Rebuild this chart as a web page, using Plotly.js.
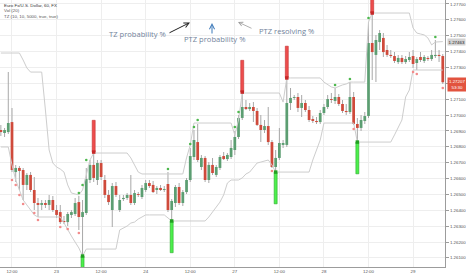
<!DOCTYPE html>
<html><head><meta charset="utf-8">
<script src="https://cdn.plot.ly/plotly-3.0.1.min.js"></script>
<style>html,body{margin:0;padding:0;background:#fff}#chart{width:466px;height:275px}</style>
</head><body><div id="chart"></div>
<script>
// hourly EUR/USD candles (index 0 = 22nd 09:00)
const opens = [
1.26906,1.26887,1.26893,1.26956,1.26641,1.26667,1.26654,1.26560,1.26623,1.26528,
1.26446,1.26434,1.26446,1.26434,1.26465,1.26402,1.26389,1.26333,1.26326,1.26371,
1.26377,1.26452,1.26358,1.26383,1.26591,1.26686,1.26591,1.26698,1.26591,1.26497,
1.26402,1.26553,1.26402,1.26471,1.26478,1.26497,1.26446,1.26503,1.26484,1.26528,
1.26572,1.26560,1.26528,1.26541,1.26528,1.26566,1.26402,1.26446,1.26547,1.26446,
1.26515,1.26591,1.26736,1.26830,1.26673,1.26730,1.26591,1.26686,1.26623,1.26667,
1.26742,1.26723,1.26736,1.26780,1.26862,1.26982,1.27051,1.27038,1.27051,1.27026,
1.26938,1.26906,1.26931,1.26830,1.26673,1.26730,1.26812,1.26812,1.27076,1.27108,
1.27114,1.27045,1.27076,1.27032,1.26975,1.26963,1.26956,1.27013,1.27051,1.27101,
1.27089,1.27114,1.27070,1.27026,1.27019,1.27114,1.26944,1.26919,1.26963,1.26994,
1.27454,1.27379,1.27460,1.27486,1.27410,1.27379,1.27372,1.27334,1.27360,1.27334,
1.27347,1.27372,1.27328,1.27366,1.27341,1.27360,1.27353,1.27372,1.27379,1.27372];
const highs = [
1.26938,1.26919,1.27271,1.27045,1.26686,1.26679,1.26667,1.26635,1.26641,1.26610,
1.26478,1.26465,1.26465,1.26497,1.26490,1.26434,1.26434,1.26364,1.26389,1.26402,
1.26478,1.26490,1.26465,1.26667,1.26717,1.26767,1.26717,1.26717,1.26623,1.26528,
1.26572,1.26578,1.26497,1.26497,1.26509,1.26623,1.26528,1.26515,1.26560,1.26591,
1.26591,1.26585,1.26553,1.26560,1.26553,1.26641,1.26471,1.26560,1.26572,1.26528,
1.26604,1.26793,1.26906,1.26944,1.26749,1.26742,1.26704,1.26730,1.26686,1.26749,
1.26767,1.26761,1.26843,1.26900,1.27001,1.27145,1.27095,1.27076,1.27082,1.27045,
1.27001,1.26969,1.27051,1.26843,1.26780,1.26919,1.26843,1.27234,1.27171,1.27127,
1.27139,1.27127,1.27095,1.27057,1.26994,1.26988,1.27032,1.27070,1.27127,1.27139,
1.27171,1.27133,1.27095,1.27070,1.27208,1.27145,1.26982,1.27001,1.27019,1.27586,
1.27643,1.27505,1.27536,1.27517,1.27442,1.27410,1.27397,1.27379,1.27379,1.27372,
1.27397,1.27410,1.27366,1.27397,1.27379,1.27372,1.27410,1.27473,1.27410,1.27385];
const lows = [
1.26868,1.26862,1.26881,1.26641,1.26578,1.26528,1.26465,1.26528,1.26515,1.26402,
1.26358,1.26402,1.26415,1.26402,1.26389,1.26352,1.26314,1.26314,1.26301,1.26352,
1.26364,1.26276,1.26112,1.26371,1.26572,1.26578,1.26560,1.26591,1.26478,1.26434,
1.26295,1.26484,1.26389,1.26459,1.26465,1.26434,1.26434,1.26484,1.26471,1.26515,
1.26541,1.26509,1.26503,1.26522,1.26515,1.26389,1.26333,1.26421,1.26434,1.26427,
1.26503,1.26578,1.26717,1.26704,1.26654,1.26578,1.26572,1.26623,1.26610,1.26654,
1.26717,1.26711,1.26723,1.26749,1.26849,1.26969,1.27032,1.27026,1.26956,1.26931,
1.26830,1.26887,1.26812,1.26667,1.26641,1.26717,1.26793,1.26799,1.27032,1.27095,
1.27019,1.26988,1.27019,1.26956,1.26950,1.26944,1.26944,1.27001,1.27038,1.27076,
1.27070,1.27057,1.27013,1.27001,1.27007,1.26938,1.26830,1.26900,1.26944,1.26982,
1.27221,1.27208,1.27410,1.27366,1.27366,1.27360,1.27328,1.27322,1.27322,1.27322,
1.27334,1.27297,1.27284,1.27334,1.27328,1.27341,1.27341,1.27360,1.27334,1.27196];
const closes = [
1.26893,1.26906,1.26950,1.26654,1.26667,1.26648,1.26560,1.26623,1.26528,1.26446,
1.26434,1.26446,1.26434,1.26465,1.26402,1.26371,1.26326,1.26326,1.26377,1.26389,
1.26446,1.26358,1.26389,1.26597,1.26686,1.26604,1.26698,1.26610,1.26497,1.26452,
1.26553,1.26497,1.26465,1.26478,1.26497,1.26446,1.26509,1.26497,1.26541,1.26572,
1.26553,1.26515,1.26541,1.26528,1.26534,1.26402,1.26459,1.26547,1.26446,1.26515,
1.26591,1.26742,1.26843,1.26717,1.26730,1.26591,1.26686,1.26635,1.26673,1.26736,
1.26723,1.26749,1.26793,1.26862,1.26982,1.27051,1.27038,1.27051,1.27026,1.26938,
1.26906,1.26931,1.26830,1.26673,1.26730,1.26824,1.26824,1.27076,1.27108,1.27114,
1.27045,1.27076,1.27032,1.26969,1.26963,1.26956,1.27013,1.27051,1.27101,1.27095,
1.27114,1.27070,1.27026,1.27019,1.27114,1.26944,1.26919,1.26969,1.26994,1.27454,
1.27397,1.27473,1.27517,1.27397,1.27379,1.27372,1.27341,1.27360,1.27334,1.27353,
1.27366,1.27322,1.27353,1.27347,1.27366,1.27353,1.27379,1.27379,1.27372,1.27207];

// TZ channel lines
const upperBand = [
1.27391,1.27391,1.27391,1.27391,1.27391,1.27391,1.27347,1.27297,1.27271,1.27271,
1.27271,1.27271,1.27032,1.26780,1.26698,1.26673,1.26660,1.26641,1.26560,1.26509,
1.26503,1.26497,1.26528,1.26623,1.26717,1.26761,1.26761,1.26761,1.26761,1.26761,
1.26761,1.26761,1.26761,1.26761,1.26761,1.26730,1.26686,1.26641,1.26629,1.26629,
1.26629,1.26629,1.26629,1.26629,1.26629,1.26629,1.26629,1.26629,1.26629,1.26629,
1.26730,1.26812,1.26950,1.26950,1.26950,1.26950,1.26950,1.26950,1.26950,1.26950,
1.26950,1.26950,1.26950,1.26875,1.26969,1.27139,1.27139,1.27139,1.27139,1.27139,
1.27139,1.27139,1.27139,1.27139,1.27139,1.27139,1.27082,1.27234,1.27234,1.27234,
1.27234,1.27234,1.27234,1.27234,1.27234,1.27234,1.27234,1.27208,1.27190,1.27177,
1.27171,1.27183,1.27190,1.27196,1.27208,1.27208,1.27208,1.27208,1.27208,1.27586,
1.27643,1.27643,1.27643,1.27643,1.27643,1.27643,1.27643,1.27643,1.27643,1.27643,
1.27643,1.27549,1.27517,1.27511,1.27505,1.27486,1.27442,1.27460,1.27460,1.27463];
const lowerBand = [
1.26799,1.26799,1.26799,1.26686,1.26591,1.26528,1.26465,1.26434,1.26402,1.26371,
1.26358,1.26358,1.26358,1.26358,1.26358,1.26358,1.26358,1.26320,1.26276,1.26238,
1.26200,1.26163,1.26112,1.26156,1.26156,1.26156,1.26156,1.26156,1.26156,1.26156,
1.26156,1.26156,1.26276,1.26289,1.26301,1.26320,1.26326,1.26345,1.26358,1.26371,
1.26371,1.26371,1.26371,1.26371,1.26371,1.26352,1.26333,1.26333,1.26333,1.26333,
1.26333,1.26333,1.26333,1.26333,1.26333,1.26333,1.26358,1.26389,1.26421,1.26452,
1.26497,1.26572,1.26591,1.26591,1.26591,1.26604,1.26629,1.26641,1.26667,1.26698,
1.26704,1.26711,1.26717,1.26686,1.26641,1.26641,1.26641,1.26641,1.26641,1.26641,
1.26641,1.26641,1.26641,1.26641,1.26717,1.26780,1.26843,1.26950,1.26950,1.26950,
1.26950,1.26950,1.26950,1.26950,1.26950,1.26950,1.26830,1.26830,1.26830,1.26830,
1.26830,1.26830,1.26830,1.26830,1.26830,1.26830,1.26875,1.26919,1.26969,1.27114,
1.27158,1.27284,1.27284,1.27284,1.27284,1.27284,1.27284,1.27284,1.27284,1.27284];

// TZ markers
const tzLowIdx  = [3,4,5,6,9,10,16,18,21,73,95,111,112,119];
const tzLowVal  = [1.26591,1.26560,1.26497,1.26440,1.26383,1.26339,1.26295,1.26282,1.26257,1.26648,1.26912,1.27271,1.27259,1.27171];
const tzHighIdx = [21,22,23,45,51,52,53,63,64,90,94,99,117];
const tzHighVal = [1.26509,1.26560,1.26717,1.26660,1.26818,1.26925,1.26969,1.26925,1.27019,1.27190,1.27227,1.27612,1.27492];
const topIdx  = [25,65,77,100];
const topProb = [0.002,0.002,0.002,0.002];
const botIdx  = [22,46,74,96];
const botProb = [0.002,0.002,0.002,0.002];

const tickIdx  = [3,15,27,39,51,63,75,87,99,111];
const tickText = ['12:00','23','12:00','24','12:00','27','12:00','28','12:00','29'];
const priceTicks = [1.261,1.262,1.263,1.264,1.265,1.266,1.267,1.268,1.269,1.270,1.271,1.272,1.273,1.274,1.275,1.276,1.277];
const legendLines = ['Euro Fx/U.S. Dollar, 60, FX','Vol (20)','TZ (10, 10, 5000, true, true)'];
const countdown = '53:30';

const idx = opens.map((_, i) => i);
const lastClose = closes[closes.length-1];
const lastUpper = upperBand[upperBand.length-1];
const UP = '#5c9e72', DN = '#cf4a3b';
const bandLine = {color:'#cdcdcd', width:1};

const traces = [
  {type:'scatter', mode:'lines', x:idx, y:upperBand, line:bandLine, hoverinfo:'skip'},
  {type:'scatter', mode:'lines', x:idx, y:lowerBand, line:bandLine, hoverinfo:'skip'},
  {type:'bar', x:idx, base:lows, y:highs.map((h,i)=>h-lows[i]), width:0.27,
   marker:{color:'#a8a8a8', line:{width:0}}},
  {type:'bar', x:idx, base:opens.map((o,i)=>Math.min(o,closes[i])),
   y:opens.map((o,i)=>Math.max(Math.abs(closes[i]-o),0.00005)), width:0.74,
   marker:{color:opens.map((o,i)=>closes[i]>=o?UP:DN), line:{width:0}}},
  {type:'bar', x:topIdx, base:topIdx.map(i=>highs[i]), y:topProb, width:0.8,
   marker:{color:'#ee4d4d', line:{color:'#c33131', width:0.6}}},
  {type:'bar', x:botIdx, base:botIdx.map((i,k)=>lows[i]-botProb[k]), y:botProb, width:0.8,
   marker:{color:'#4cf04c', line:{color:'#2aa82a', width:0.6}}},
  {type:'scatter', mode:'markers', x:topIdx, y:topIdx.map(i=>highs[i]),
   marker:{symbol:'square', size:3.5, color:'#c62828'}},
  {type:'scatter', mode:'markers', x:botIdx, y:botIdx.map(i=>lows[i]),
   marker:{symbol:'square', size:3.5, color:'#22a022'}},
  {type:'scatter', mode:'markers', x:tzLowIdx, y:tzLowVal,
   marker:{symbol:'circle', size:2.6, color:'#f28b8b'}},
  {type:'scatter', mode:'markers', x:tzHighIdx, y:tzHighVal,
   marker:{symbol:'circle', size:2.6, color:'#4db84d'}}
];

const W = 445, H = 267;
const px = v => v / W, py = v => 1 - v / H;
const noteFont = {family:'Open Sans', size:7.6, color:'#72839b'};
const annotations = [];
legendLines.forEach((t, k) => annotations.push({
  xref:'paper', yref:'paper', x:px(2), y:py(5 + k*5.8), xanchor:'left', yanchor:'middle',
  text:t, showarrow:false, font:{family:'Liberation Sans', size:4.4, color: k===0?'#333':'#555'}
}));
const note = (cx, cy, t) => ({xref:'paper', yref:'paper', x:px(cx), y:py(cy), xanchor:'center', yanchor:'middle',
  text:t, showarrow:false, font:noteFont});
const arrow = (hx, hy, ax, ay, c, w) => ({xref:'paper', yref:'paper', x:px(hx), y:py(hy), ax:ax, ay:ay,
  text:'', showarrow:true, arrowhead:5, arrowsize:1, arrowwidth:w, arrowcolor:c});
annotations.push(
  note(137.5, 34, 'TZ probability %'),
  note(214.5, 38.5, 'PTZ probability %'),
  note(286, 31, 'PTZ resolving %'),
  arrow(190, 22.5, -22, 11, '#222', 1),
  arrow(212, 23, 0, 12, '#3b78b8', 1),
  arrow(238, 22, 15, 7, '#9a9a9a', 0.8),
  {xref:'paper', yref:'y', x:1, y:lastUpper, xanchor:'left', xshift:2, yanchor:'middle',
   text:lastUpper.toFixed(5), showarrow:false, bgcolor:'#d2d2d2', borderpad:0.5,
   font:{family:'Liberation Sans', size:4.4, color:'#222'}},
  {xref:'paper', yref:'y', x:1, y:lastClose, xanchor:'left', xshift:2, yanchor:'top', yshift:5,
   text:lastClose.toFixed(5)+'<br>'+countdown, showarrow:false, bgcolor:'#e2533f', borderpad:1,
   font:{family:'Liberation Sans', size:4.4, color:'#fff'}}
);

// tick label hidden where the last-price box sits over it (as in the reference)
const priceTickText = priceTicks.map(v => Math.abs(v - lastClose) < 0.0004 ? '' : v.toFixed(5));

const layout = {
  width:466, height:275, margin:{l:0, r:21, t:0, b:8},
  paper_bgcolor:'#fff', plot_bgcolor:'#fff', showlegend:false, barmode:'overlay',
  font:{family:'Liberation Sans'},
  xaxis:{range:[-0.23,119.6], tickmode:'array', tickvals:tickIdx, ticktext:tickText,
    showgrid:true, gridcolor:'#eeeeee', gridwidth:1, zeroline:false,
    showline:true, linecolor:'#9c9c9c', linewidth:1, ticks:'',
    tickfont:{size:4.4, color:'#555'}},
  yaxis:{side:'right', range:[1.26043,1.27725], tickmode:'array', tickvals:priceTicks, ticktext:priceTickText,
    showgrid:true, gridcolor:'#eeeeee', gridwidth:1, zeroline:false,
    showline:true, linecolor:'#9c9c9c', linewidth:1, ticks:'outside', ticklen:3, tickcolor:'#9c9c9c',
    tickfont:{size:4.4, color:'#555'}},
  annotations:annotations
};
Plotly.newPlot('chart', traces, layout, {staticPlot:true, displayModeBar:false});
</script></body></html>
